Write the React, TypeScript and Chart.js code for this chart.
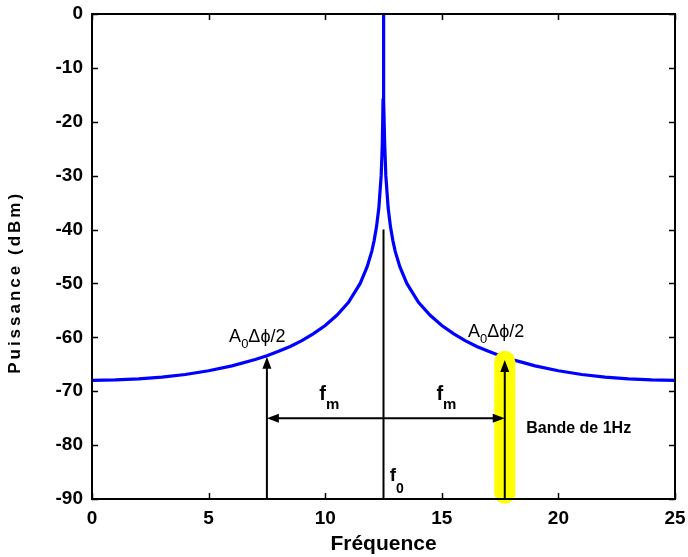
import React, { useEffect, useRef } from "react";
import { Chart, registerables } from "chart.js";

Chart.register(...registerables);

// Spectrum (frequency, power in dB)
const freqs = [
  0, 1, 2, 3, 4, 5, 6, 7, 7.5, 8, 8.5, 9, 9.5, 10, 10.5, 11, 11.5, 11.8, 12,
  12.1, 12.2, 12.3, 12.4, 12.45, 12.48, 12.49, 12.5, 12.51, 12.52, 12.55, 12.6,
  12.7, 12.8, 12.9, 13, 13.2, 13.5, 14, 14.5, 15, 15.5, 16, 16.5, 17, 17.5, 18,
  18.5, 19, 20, 21, 22, 23, 24, 25,
];
const power = [
  -68.0, -67.9, -67.7, -67.4, -66.9, -66.2, -65.3, -64.1, -63.4, -62.6, -61.7,
  -60.6, -59.3, -57.8, -55.9, -53.5, -50.0, -46.9, -44.0, -42.0, -39.5, -36.0,
  -30.0, -24.0, -16.0, -10.0, 0, -10.0, -16.0, -24.0, -30.0, -36.0, -39.5,
  -42.0, -44.0, -46.9, -50.0, -53.5, -55.9, -57.8, -59.3, -60.6, -61.7, -62.6,
  -63.4, -64.1, -64.7, -65.3, -66.2, -66.9, -67.4, -67.7, -67.9, -68.0,
];
const xTicks = [0, 5, 10, 15, 20, 25];
const yTicks = [0, -10, -20, -30, -40, -50, -60, -70, -80, -90];
const xTitle = "Fréquence";
const yTitle = "Puissance (dBm)";

// Annotation anchors (data units)
const carrierFreq = 12.5;
const carrierTop = -40;
const sideLeftFreq = 7.5;
const sideRightFreq = 17.7;
const sideLeftLevel = -63.6;
const sideRightLevel = -64.2;
const fmLevel = -75;
const bandTop = -62.5;
const bandBottom = -90.9;

const FONT = "'Liberation Sans', Arial, Helvetica, sans-serif";

function arrowHead(ctx: CanvasRenderingContext2D, x: number, y: number, dir: "up" | "left" | "right") {
  const L = 12;
  const W = 4.5;
  ctx.beginPath();
  if (dir === "up") {
    ctx.moveTo(x, y);
    ctx.lineTo(x - W, y + L);
    ctx.lineTo(x + W, y + L);
  } else if (dir === "left") {
    ctx.moveTo(x, y);
    ctx.lineTo(x + L, y - W);
    ctx.lineTo(x + L, y + W);
  } else {
    ctx.moveTo(x, y);
    ctx.lineTo(x - L, y - W);
    ctx.lineTo(x - L, y + W);
  }
  ctx.closePath();
  ctx.fill();
}

function subText(
  ctx: CanvasRenderingContext2D,
  x: number,
  y: number,
  main: string,
  sub: string,
  rest: string,
  mainFont: string,
  subFont: string,
  subDrop: number
) {
  ctx.textAlign = "left";
  ctx.textBaseline = "alphabetic";
  ctx.font = mainFont;
  ctx.fillText(main, x, y);
  let cx = x + ctx.measureText(main).width;
  ctx.font = subFont;
  ctx.fillText(sub, cx, y + subDrop);
  cx += ctx.measureText(sub).width;
  if (rest) {
    ctx.font = mainFont;
    ctx.fillText(rest, cx, y);
  }
}

const annotations = {
  id: "annotations",
  afterDatasetsDraw(chart: any) {
    const ctx = chart.ctx as CanvasRenderingContext2D;
    const xs = chart.scales.x;
    const ys = chart.scales.y;
    const px = (v: number) => xs.getPixelForValue(v);
    const py = (v: number) => ys.getPixelForValue(v);
    const bottom = chart.chartArea.bottom;
    ctx.save();

    // yellow highlight (band of 1 Hz)
    const hx = px(sideRightFreq);
    const hw = 21;
    const top = py(bandTop);
    const bot = py(bandBottom);
    ctx.fillStyle = "#ffff00";
    ctx.beginPath();
    ctx.roundRect(hx - hw / 2, top, hw, bot - top, hw / 2);
    ctx.fill();

    ctx.strokeStyle = "#000";
    ctx.fillStyle = "#000";
    ctx.lineWidth = 2;

    // carrier line
    ctx.beginPath();
    ctx.moveTo(px(carrierFreq), bottom);
    ctx.lineTo(px(carrierFreq), py(carrierTop));
    ctx.stroke();

    // side arrows
    const lx = px(sideLeftFreq);
    ctx.beginPath();
    ctx.moveTo(lx, bottom);
    ctx.lineTo(lx, py(sideLeftLevel) + 10);
    ctx.stroke();
    arrowHead(ctx, lx, py(sideLeftLevel), "up");

    ctx.beginPath();
    ctx.moveTo(hx, bottom);
    ctx.lineTo(hx, py(sideRightLevel) + 10);
    ctx.stroke();
    arrowHead(ctx, hx, py(sideRightLevel), "up");

    // fm arrows
    const fy = py(fmLevel);
    ctx.beginPath();
    ctx.moveTo(px(carrierFreq), fy);
    ctx.lineTo(lx + 10, fy);
    ctx.moveTo(px(carrierFreq), fy);
    ctx.lineTo(hx - 10, fy);
    ctx.stroke();
    arrowHead(ctx, lx, fy, "left");
    arrowHead(ctx, hx, fy, "right");

    // labels
    subText(ctx, px(5.88), py(-60.9), "A", "0", "\u0394\u03d5/2", `18px ${FONT}`, `13px ${FONT}`, 6);
    subText(ctx, px(16.12), py(-60.0), "A", "0", "\u0394\u03d5/2", `18px ${FONT}`, `13px ${FONT}`, 6);
    subText(ctx, px(9.75), py(-71.6), "f", "m", "", `bold 20px ${FONT}`, `bold 15px ${FONT}`, 9);
    subText(ctx, px(14.77), py(-71.6), "f", "m", "", `bold 20px ${FONT}`, `bold 15px ${FONT}`, 9);
    subText(ctx, px(12.77), py(-86.6), "f", "0", "", `bold 19px ${FONT}`, `bold 14px ${FONT}`, 12);

    ctx.font = `bold 16px ${FONT}`;
    ctx.textAlign = "left";
    ctx.textBaseline = "alphabetic";
    ctx.fillText("Bande de 1Hz", px(18.62), py(-77.7));

    ctx.restore();
  },
  afterDraw(chart: any) {
    const ctx = chart.ctx as CanvasRenderingContext2D;
    const { left, right, top, bottom } = chart.chartArea;
    const xs = chart.scales.x;
    const ys = chart.scales.y;
    ctx.save();
    ctx.strokeStyle = "#000";
    ctx.lineWidth = 2;
    ctx.strokeRect(left, top, right - left, bottom - top);
    ctx.lineWidth = 1.5;
    const t = 6;
    ctx.beginPath();
    xTicks.forEach((v) => {
      const x = Math.round(xs.getPixelForValue(v)) + 0.5;
      ctx.moveTo(x, bottom);
      ctx.lineTo(x, bottom - t);
      ctx.moveTo(x, top);
      ctx.lineTo(x, top + t);
    });
    yTicks.forEach((v) => {
      const y = Math.round(ys.getPixelForValue(v)) + 0.5;
      ctx.moveTo(left, y);
      ctx.lineTo(left + t, y);
      ctx.moveTo(right, y);
      ctx.lineTo(right - t, y);
    });
    ctx.stroke();

    // y-axis title, vertical, placed as in the figure
    ctx.translate(15, py2(ys, -49.8));
    ctx.rotate(-Math.PI / 2);
    ctx.font = `bold 17px ${FONT}`;
    (ctx as any).letterSpacing = "3px";
    ctx.fillStyle = "#000";
    ctx.textAlign = "center";
    ctx.textBaseline = "middle";
    ctx.fillText(yTitle, 0, 0);
    ctx.restore();
  },
};

function py2(ys: any, v: number) {
  return ys.getPixelForValue(v);
}

function zeroPad(s: any) {
  s.paddingTop = 0;
  s.paddingBottom = 0;
  s.paddingLeft = 0;
  s.paddingRight = 0;
}

export default function App() {
  const ref = useRef<HTMLCanvasElement | null>(null);
  useEffect(() => {
    document.body.style.margin = "0";
    if (!ref.current) return;
    const chart = new Chart(ref.current, {
      type: "line",
      data: {
        datasets: [
          {
            data: freqs.map((f, i) => ({ x: f, y: power[i] })),
            borderColor: "#0000ff",
            borderWidth: 3.2,
            pointRadius: 0,
            tension: 0,
            fill: false,
          },
        ],
      },
      options: {
        animation: false,
        responsive: false,
        events: [],
        layout: { padding: { top: 14, right: 13, left: 0, bottom: 0 } },
        plugins: { legend: { display: false }, tooltip: { enabled: false } },
        scales: {
          x: {
            type: "linear",
            min: 0,
            max: 25,
            afterBuildTicks: (s: any) => {
              s.ticks = xTicks.map((v) => ({ value: v }));
            },
            afterFit: (s: any) => {
              s.height = 58;
              zeroPad(s);
            },
            grid: { display: false, drawTicks: false },
            border: { display: false },
            ticks: {
              color: "#000",
              font: { family: FONT, size: 19, weight: "bold" },
              padding: 8,
              maxRotation: 0,
              autoSkip: false,
            },
            title: {
              display: true,
              text: xTitle,
              color: "#000",
              font: { family: FONT, size: 21, weight: "bold" },
              padding: { top: 0, bottom: 0 },
            },
          },
          y: {
            type: "linear",
            min: -90,
            max: 0,
            afterBuildTicks: (s: any) => {
              s.ticks = yTicks.map((v) => ({ value: v }));
            },
            afterFit: (s: any) => {
              s.width = 92;
              zeroPad(s);
            },
            grid: { display: false, drawTicks: false },
            border: { display: false },
            ticks: {
              color: "#000",
              font: { family: FONT, size: 19, weight: "bold" },
              padding: 9,
              autoSkip: false,
            },
            title: { display: false, text: yTitle },
          },
        },
      },
      plugins: [annotations],
    });
    return () => chart.destroy();
  }, []);
  return (
    <div style={{ width: 688, height: 557, background: "#fff" }}>
      <canvas ref={ref} width={688} height={557} style={{ display: "block" }} />
    </div>
  );
}
